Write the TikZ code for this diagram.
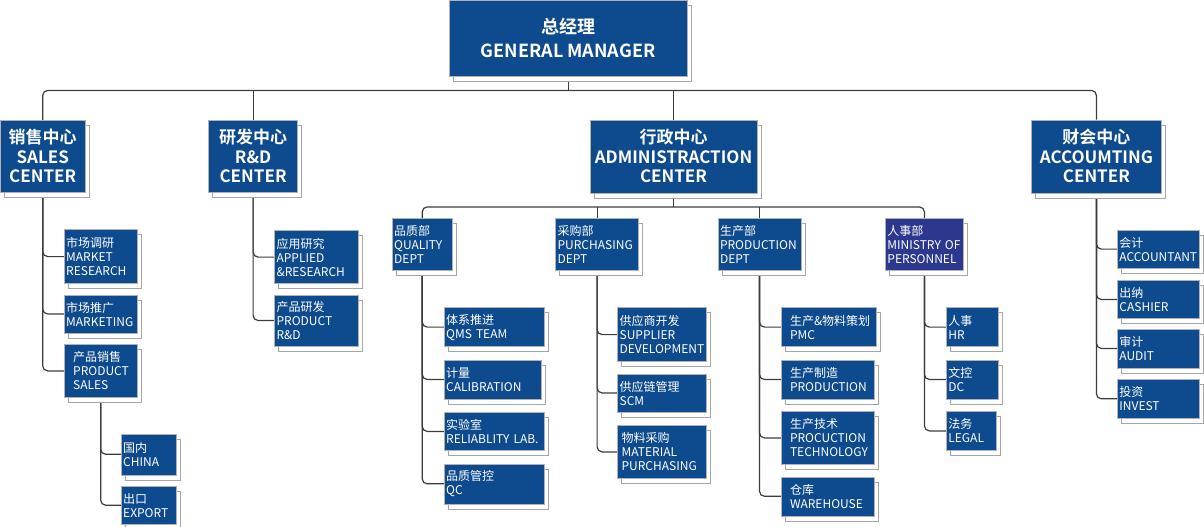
\documentclass[tikz,border=0pt]{standalone}
\usepackage{fontspec}
\setmainfont{Noto Sans CJK SC}[BoldFont={Noto Sans CJK SC Bold}]
\usepackage{tikz}
\usetikzlibrary{positioning, shadows, backgrounds}
\usepackage{xcolor}

\definecolor{boxblue}{RGB}{14,74,142}
\definecolor{boxviolet}{RGB}{44,56,142}
\definecolor{linegray}{RGB}{60,60,60}

\tikzset{
  unit/.style={rectangle, draw=gray!60, fill=boxblue, text=white, inner sep=0pt,
    copy shadow={fill=white, draw=gray!70, shadow xshift=4pt, shadow yshift=-5pt}},
  boss/.style={unit, font=\bfseries\fontsize{18}{24}\selectfont, align=center},
  hub/.style={unit, font=\bfseries\fontsize{17}{19.5}\selectfont, align=center},
  dept/.style={unit, font=\fontsize{12}{14}\selectfont, align=left, inner xsep=2pt,
    text width=#1, minimum height=52pt},
  sub/.style={unit, font=\fontsize{12}{14}\selectfont, align=left, inner xsep=2pt,
    text width=#1, minimum height=39pt},
  link/.style={draw=linegray, line width=1.2pt, rounded corners=5pt},
}

\begin{document}
\begin{tikzpicture}[x=1pt, y=-1pt]
    \useasboundingbox (0,0) rectangle (1204,527);

    % Nodes
    \node[boss, minimum width=238pt, minimum height=76pt, anchor=north west] (gm) at (449,0) {总经理\\GENERAL MANAGER};
    \node[hub, minimum width=85pt, minimum height=72pt, anchor=north west] (sales) at (0,120) {销售中心\\SALES\\CENTER};
    \node[hub, minimum width=89pt, minimum height=72pt, right=123pt of sales] (rd) {研发中心\\R\&D\\CENTER};
    \node[hub, minimum width=167pt, minimum height=73pt, right=292pt of rd] (admin) {行政中心\\ADMINISTRACTION\\CENTER};
    \node[hub, minimum width=130pt, minimum height=73pt, right=274pt of admin] (acct) {财会中心\\ACCOUMTING\\CENTER};
    \coordinate (topbus) at ([yshift=-14pt]gm.south);
    \coordinate (admbus) at ([yshift=-14pt]admin.south);

    % sales center
    \node[sub=69pt, minimum height=54pt, below right=37pt and 64pt of sales.south west] (mresearch) {市场调研\\MARKET\\RESEARCH};
    \node[sub=69pt, minimum height=38pt, below right=11pt and 0pt of mresearch.south west] (marketing) {市场推广\\MARKETING};
    \node[sub=55pt, inner xsep=9pt, minimum height=53pt, below right=11pt and 0pt of marketing.south west] (psales) {产品销售\\PRODUCT\\SALES};
    \node[sub=51pt, minimum height=41pt, below right=36pt and 57pt of psales.south west] (china) {国内\\CHINA};
    \node[sub=51pt, minimum height=38pt, below right=11pt and 0pt of china.south west] (export) {出口\\EXPORT};

    % r&d center
    \node[sub=80pt, minimum height=53pt, below right=38pt and 66pt of rd.south west] (applied) {应用研究\\APPLIED\\\&RESEARCH};
    \node[sub=80pt, minimum height=51pt, below right=11pt and 0pt of applied.south west] (prd) {产品研发\\PRODUCT\\R\&D};

    % administration departments
    \node[dept=56pt, anchor=north west] (quality) at (392,218) {品质部\\QUALITY\\DEPT};
    \node[dept=79pt, right=103pt of quality] (purchase) {采购部\\PURCHASING\\DEPT};
    \node[dept=79pt, right=79pt of purchase] (produce) {生产部\\PRODUCTION\\DEPT};
    \node[dept=74pt, fill=boxviolet, right=84pt of produce] (personnel) {人事部\\MINISTRY~OF\\PERSONNEL};

    \node[sub=96pt, below right=37pt and 52pt of quality.south west] (qms) {体系推进\\QMS~TEAM};
    \node[sub=93pt, below right=13pt and 0pt of qms.south west] (calib) {计量\\CALIBRATION};
    \node[sub=96pt, minimum height=38pt, below right=13pt and 0pt of calib.south west] (lab) {实验室\\RELIABLITY~LAB.};
    \node[sub=96pt, minimum height=40pt, below right=13pt and 0pt of lab.south west] (qc) {品质管控\\QC};

    \node[sub=85pt, minimum height=54pt, below right=37pt and 62pt of purchase.south west] (supplier) {供应商开发\\SUPPLIER\\DEVELOPMENT};
    \node[sub=85pt, minimum height=38pt, below right=12pt and 0pt of supplier.south west] (scm) {供应链管理\\SCM};
    \node[sub=81pt, inner xsep=4pt, minimum height=53pt, below right=13pt and 0pt of scm.south west] (material) {物料采购\\MATERIAL\\PURCHASING};

    \node[sub=77pt, inner xsep=9pt, below right=37pt and 63pt of produce.south west] (pmc) {生产\&物料策划\\PMC};
    \node[sub=75pt, inner xsep=9pt, below right=13pt and 0pt of pmc.south west] (making) {生产制造\\PRODUCTION};
    \node[sub=75pt, inner xsep=9pt, minimum height=53pt, below right=12pt and 0pt of making.south west] (tech) {生产技术\\PROCUCTION\\TECHNOLOGY};
    \node[sub=75pt, inner xsep=9pt, below right=12pt and 0pt of tech.south west] (store) {仓库\\WAREHOUSE};

    \node[sub=48pt, below right=37pt and 61pt of personnel.south west] (hr) {人事\\HR};
    \node[sub=48pt, below right=13pt and 0pt of hr.south west] (dc) {文控\\DC};
    \node[sub=46pt, below right=12pt and 0pt of dc.south west] (legal) {法务\\LEGAL};

    % accounting center
    \node[sub=78pt, minimum height=38pt, below right=37pt and 86pt of acct.south west] (accountant) {会计\\ACCOUNTANT};
    \node[sub=78pt, minimum height=38pt, below right=12pt and 0pt of accountant.south west] (cashier) {出纳\\CASHIER};
    \node[sub=78pt, below right=10pt and 0pt of cashier.south west] (audit) {审计\\AUDIT};
    \node[sub=78pt, below right=11pt and 0pt of audit.south west] (invest) {投资\\INVEST};

    % Connections
    \begin{scope}[on background layer]
    \draw[link] (gm.south) -- (topbus);
    \draw[link] (sales.north) |- (topbus) -| (acct.north);
    \draw[link] (rd.north) -- (rd.north |- topbus);
    \draw[link] (admin.north) -- (admin.north |- topbus);

    \draw[link] (admin.south) -- (admbus);
    \draw[link] (quality.north) |- (admbus) -| (personnel.north);
    \draw[link] (purchase.north) -- (purchase.north |- admbus);
    \draw[link] (produce.north) -- (produce.north |- admbus);

    \foreach \kid in {mresearch, marketing, psales}
      \draw[link] (sales.south) |- (\kid.west);
    \foreach \kid in {china, export}
      \draw[link] (psales.south) |- (\kid.west);
    \foreach \kid in {applied, prd}
      \draw[link] (rd.south) |- (\kid.west);
    \foreach \kid in {qms, calib, lab, qc}
      \draw[link] (quality.south) |- (\kid.west);
    \foreach \kid in {supplier, scm, material}
      \draw[link] (purchase.south) |- (\kid.west);
    \foreach \kid in {pmc, making, tech, store}
      \draw[link] (produce.south) |- (\kid.west);
    \foreach \kid in {hr, dc, legal}
      \draw[link] (personnel.south) |- (\kid.west);
    \foreach \kid in {accountant, cashier, audit, invest}
      \draw[link] (acct.south) |- (\kid.west);
    \end{scope}
\end{tikzpicture}
\end{document}
